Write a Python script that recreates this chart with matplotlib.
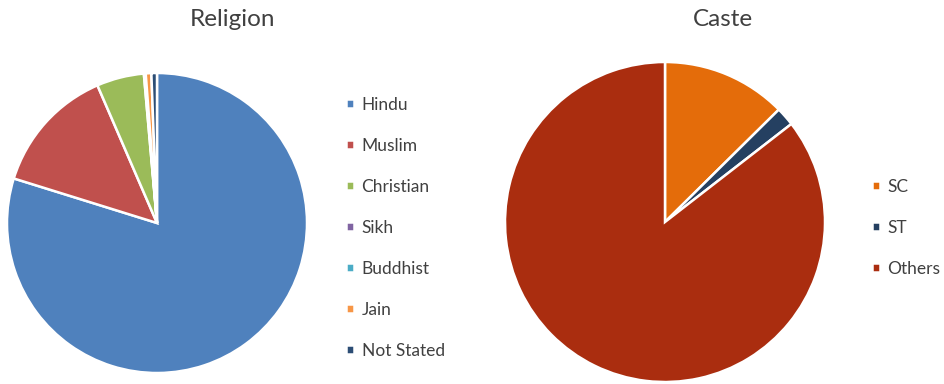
import matplotlib
matplotlib.use("Agg")
import matplotlib.pyplot as plt

plt.rcParams['font.family'] = ['Lato', 'DejaVu Sans']

# religion shares (%)
religions = ["Hindu", "Muslim", "Christian", "Sikh", "Buddhist", "Jain", "Not Stated"]
religion_share = [79.8, 13.7, 5.1, 0.1, 0.1, 0.6, 0.6]
religion_colors = ["#4F81BD", "#C0504D", "#9BBB59", "#8064A2", "#4BACC6", "#F79646", "#2C4D75"]

# caste shares (%)
castes = ["SC", "ST", "Others"]
caste_share = [12.6, 1.9, 85.5]
caste_colors = ["#E46C0A", "#254061", "#AA2D0F"]

W, H = 944, 384
fig = plt.figure(figsize=(W / 100, H / 100), dpi=100)
text_col = "#404040"


def pie_axes(cx, cy, r):
    # cx, cy from top-left in pixels
    return fig.add_axes([(cx - r) / W, (H - cy - r) / H, 2 * r / W, 2 * r / H])


ax1 = pie_axes(157, 223, 150)
w1, _ = ax1.pie(religion_share, colors=religion_colors, startangle=90, counterclock=False,
                wedgeprops=dict(edgecolor="white", linewidth=1.8))
ax1.set_xlim(-1.0, 1.0)
ax1.set_ylim(-1.0, 1.0)
ax1.axis("off")

ax2 = pie_axes(665, 222, 160)
w2, _ = ax2.pie(caste_share, colors=caste_colors, startangle=90, counterclock=False,
                wedgeprops=dict(edgecolor="white", linewidth=1.8))
ax2.set_xlim(-1.0, 1.0)
ax2.set_ylim(-1.0, 1.0)
ax2.axis("off")

fig.text(233 / W, 1 - 20 / H, "Religion", ha="center", va="center", fontsize=17.5, color=text_col)
fig.text(723 / W, 1 - 20 / H, "Caste", ha="center", va="center", fontsize=17.5, color=text_col)

leg_kw = dict(frameon=False, handlelength=0.45, handleheight=0.45, handletextpad=0.45,
              borderpad=0, borderaxespad=0, fontsize=12.5, labelcolor=text_col, loc="center left")
fig.legend(w1, religions, bbox_to_anchor=(346 / W, 1 - 228 / H), labelspacing=1.44, **leg_kw)
fig.legend(w2, castes, bbox_to_anchor=(872 / W, 1 - 228 / H), labelspacing=1.44, **leg_kw)

fig.savefig("out.png", dpi=100)
